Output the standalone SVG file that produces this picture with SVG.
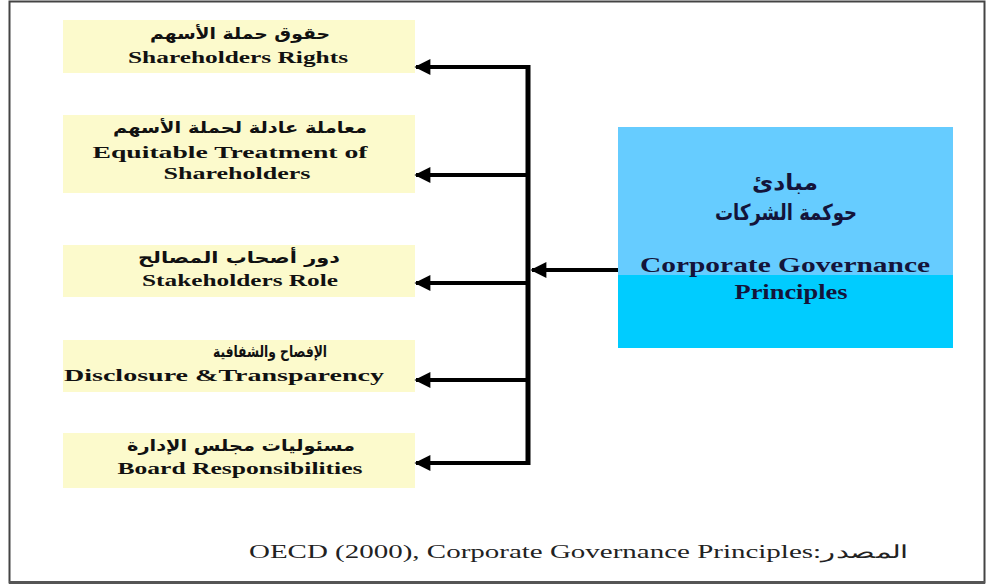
<svg xmlns="http://www.w3.org/2000/svg" width="989" height="586" viewBox="0 0 989 586">
<style>
.box{fill:#FCFACC}
.ar{font-family:"DejaVu Sans","Noto Sans",sans-serif;font-weight:bold;font-size:16px;fill:#111;text-anchor:middle}
.en{font-family:"Liberation Serif",Tinos,"Times New Roman","DejaVu Serif",serif;font-weight:bold;font-size:17px;fill:#111;text-anchor:middle}
.arb{font-family:"DejaVu Sans","Noto Sans",sans-serif;font-weight:bold;font-size:22px;fill:#14143a;text-anchor:middle}
.enb{font-family:"Liberation Serif",Tinos,"Times New Roman","DejaVu Serif",serif;font-weight:bold;font-size:20px;fill:#14143a;text-anchor:middle}
.conn{stroke:#000;stroke-width:4;fill:none}
</style>
<defs>
<marker id="ah" viewBox="0 0 10 10" refX="9" refY="5" markerWidth="4.5" markerHeight="4" markerUnits="strokeWidth" orient="auto">
<path d="M0,0 L10,5 L0,10 Z" fill="#000"/>
</marker>
</defs>
<rect x="0" y="0" width="989" height="586" fill="#fff"/>
<rect x="9.5" y="1.5" width="975" height="581" fill="none" stroke="#444" stroke-width="2"/>
<line x1="9" y1="582.5" x2="985" y2="582.5" stroke="#555" stroke-width="3"/>

<g id="n1">
<rect class="box" x="63" y="20" width="352" height="53"/>
<text class="ar" x="240" y="39" textLength="180" lengthAdjust="spacingAndGlyphs">حقوق حملة الأسهم</text>
<text class="en" x="238" y="63" textLength="220" lengthAdjust="spacingAndGlyphs">Shareholders Rights</text>
</g>
<g id="n2">
<rect class="box" x="63" y="115" width="352" height="78"/>
<text class="ar" x="240" y="133" textLength="254" lengthAdjust="spacingAndGlyphs">معاملة عادلة لحملة الأسهم</text>
<text class="en" x="230" y="158" textLength="275" lengthAdjust="spacingAndGlyphs">Equitable Treatment of</text>
<text class="en" x="237" y="179" textLength="147" lengthAdjust="spacingAndGlyphs">Shareholders</text>
</g>
<g id="n3">
<rect class="box" x="63" y="245" width="352" height="52"/>
<text class="ar" x="239" y="263" textLength="202" lengthAdjust="spacingAndGlyphs">دور أصحاب المصالح</text>
<text class="en" x="240" y="286" textLength="196" lengthAdjust="spacingAndGlyphs">Stakeholders Role</text>
</g>
<g id="n4">
<rect class="box" x="63" y="340" width="352" height="52"/>
<text class="ar" x="270" y="357" textLength="114" lengthAdjust="spacingAndGlyphs">الإفصاح والشفافية</text>
<text class="en" x="224" y="381" textLength="320" lengthAdjust="spacingAndGlyphs">Disclosure &amp;Transparency</text>
</g>
<g id="n5">
<rect class="box" x="63" y="433" width="352" height="55"/>
<text class="ar" x="241" y="451" textLength="228" lengthAdjust="spacingAndGlyphs">مسئوليات مجلس الإدارة</text>
<text class="en" x="240" y="474" textLength="245" lengthAdjust="spacingAndGlyphs">Board Responsibilities</text>
</g>

<g id="center">
<rect x="618" y="127" width="335" height="148" fill="#66CCFF"/>
<rect x="618" y="275" width="335" height="73" fill="#00CCFF"/>
<text class="arb" x="785" y="190" textLength="66" lengthAdjust="spacingAndGlyphs">مبادئ</text>
<text class="arb" x="786" y="220" textLength="142" lengthAdjust="spacingAndGlyphs">حوكمة الشركات</text>
<text class="enb" x="785" y="272" textLength="290" lengthAdjust="spacingAndGlyphs">Corporate Governance</text>
<text class="enb" x="791" y="299" textLength="113" lengthAdjust="spacingAndGlyphs">Principles</text>
</g>

<g id="connectors">
<line x1="528" y1="65" x2="528" y2="465" stroke="#000" stroke-width="5"/>
<line class="conn" x1="530" y1="67" x2="416" y2="67" marker-end="url(#ah)"/>
<line class="conn" x1="528" y1="175" x2="416" y2="175" marker-end="url(#ah)"/>
<line class="conn" x1="528" y1="283" x2="416" y2="283" marker-end="url(#ah)"/>
<line class="conn" x1="528" y1="380" x2="416" y2="380" marker-end="url(#ah)"/>
<line class="conn" x1="528" y1="463" x2="416" y2="463" marker-end="url(#ah)"/>
<line class="conn" x1="618" y1="270" x2="532" y2="270" marker-end="url(#ah)"/>
</g>

<text x="249" y="558" font-family="'Liberation Serif',Tinos,'Times New Roman','DejaVu Serif',serif" font-size="18" fill="#222" textLength="659" lengthAdjust="spacingAndGlyphs">OECD (2000), Corporate Governance Principles:المصدر</text>
</svg>
